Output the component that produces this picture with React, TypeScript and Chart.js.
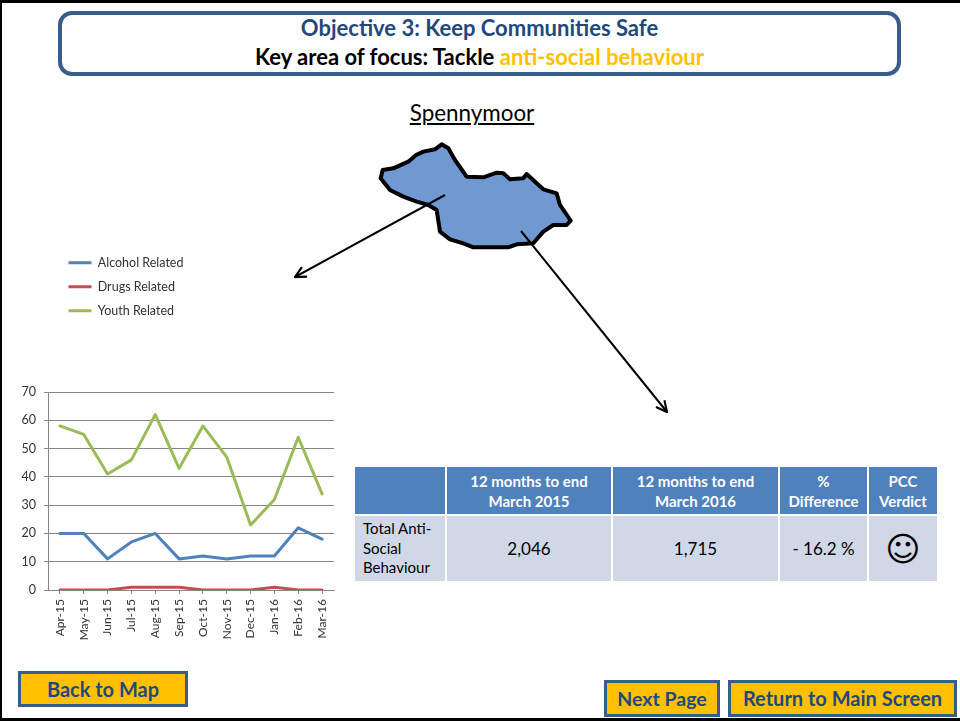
import React, { useEffect, useRef } from "react";
import { Chart, registerables } from "chart.js";

Chart.register(...registerables);

const months = ["Apr-15", "May-15", "Jun-15", "Jul-15", "Aug-15", "Sep-15", "Oct-15", "Nov-15", "Dec-15", "Jan-16", "Feb-16", "Mar-16"];
const alcoholRelated = [20, 20, 11, 17, 20, 11, 12, 11, 12, 12, 22, 18];
const drugsRelated = [0, 0, 0, 1, 1, 1, 0, 0, 0, 1, 0, 0];
const youthRelated = [58, 55, 41, 46, 62, 43, 58, 47, 23, 32, 54, 34];

const tableHeaders = ["", "12 months to end March 2015", "12 months to end March 2016", "% Difference", "PCC Verdict"];
const tableRow = ["Total Anti-Social Behaviour", "2,046", "1,715", "- 16.2 %", "☺"];

const FONT = "Lato, Carlito, sans-serif";
const NAVY = "#1f497d";
const EDGE = "#385d8a";
const AXIS = "#868686";
const TICK_TEXT = "#333333";

const CANVAS = { left: 0, top: 240, width: 345, height: 420 };
const LEGEND_AT = { x: 57, y: 245 - CANVAS.top };

const moveLegend = {
  id: "moveLegend",
  afterLayout(chart: any) {
    const l = chart.legend;
    if (!l) return;
    l.left = LEGEND_AT.x;
    l.top = LEGEND_AT.y;
    l.right = LEGEND_AT.x + 200;
    l.bottom = LEGEND_AT.y + 120;
  },
};

const cols = [
  { x: 355, w: 90 },
  { x: 447, w: 164 },
  { x: 613, w: 165 },
  { x: 780, w: 87 },
  { x: 869, w: 68 },
];

function Box(p: { x: number; y: number; w: number; h: number; text: string; size?: number }) {
  return (
    <div
      style={{
        position: "absolute", left: p.x, top: p.y, width: p.w, height: p.h, boxSizing: "border-box",
        background: "#ffc000", border: `3px solid ${EDGE}`, display: "flex", alignItems: "center",
        justifyContent: "center", color: NAVY, fontWeight: 700, fontSize: p.size ?? 20, fontFamily: FONT, whiteSpace: "nowrap", paddingBottom: 1,
      }}
    >
      {p.text}
    </div>
  );
}

function Cell(p: { x: number; y: number; w: number; h: number; bg: string; style?: any; children: any }) {
  return (
    <div
      style={{
        position: "absolute", left: p.x, top: p.y, width: p.w, height: p.h, background: p.bg, boxSizing: "border-box",
        display: "flex", alignItems: "center", justifyContent: "center", textAlign: "center", fontFamily: FONT, ...p.style,
      }}
    >
      {p.children}
    </div>
  );
}

export default function App() {
  const ref = useRef<HTMLCanvasElement>(null);
  useEffect(() => {
    const chart = new Chart(ref.current!, {
      type: "line",
      plugins: [moveLegend],
      data: {
        labels: months,
        datasets: [
          { label: "Alcohol Related", data: alcoholRelated, borderColor: "#4f81bd", backgroundColor: "#4f81bd", borderWidth: 3 },
          { label: "Drugs Related", data: drugsRelated, borderColor: "#c0504d", backgroundColor: "#c0504d", borderWidth: 3 },
          { label: "Youth Related", data: youthRelated, borderColor: "#9bbb59", backgroundColor: "#9bbb59", borderWidth: 3 },
        ],
      },
      options: {
        animation: false,
        responsive: false,
        devicePixelRatio: 1,
        layout: { padding: { top: 392 - CANVAS.top, right: CANVAS.width - 334, left: 0, bottom: 0 } },
        elements: {
          line: { tension: 0, borderCapStyle: "round", borderJoinStyle: "round" },
          point: { radius: 0 },
        },
        plugins: {
          title: { display: false },
          tooltip: { enabled: false },
          legend: {
            position: "chartArea",
            align: "start",
            labels: {
              font: { family: FONT, size: 12.5 },
              color: TICK_TEXT,
              usePointStyle: true,
              pointStyle: "line",
              pointStyleWidth: 23,
              padding: 11.5,
            },
          },
        },
        scales: {
          x: {
            offset: true,
            afterFit(s: any) { s.height = 70; },
            grid: { display: true, drawOnChartArea: false, drawTicks: true, tickLength: 4, color: AXIS },
            border: { color: AXIS },
            ticks: {
              autoSkip: false, minRotation: 90, maxRotation: 90, padding: 5,
              color: TICK_TEXT, font: { family: FONT, size: 12 },
            },
          },
          y: {
            min: 0,
            max: 70,
            afterFit(s: any) { s.width = 48; },
            grid: { color: AXIS, tickLength: 4 },
            border: { color: AXIS },
            ticks: { stepSize: 10, padding: 8, color: TICK_TEXT, font: { family: FONT, size: 12.5 } },
          },
        },
      },
    } as any);
    return () => chart.destroy();
  }, []);

  return (
    <div style={{ position: "absolute", left: 0, top: 0, width: 960, height: 721, background: "#fff", overflow: "hidden", fontFamily: FONT }}>
      {/* slide frame */}
      <div style={{ position: "absolute", left: 0, top: 0, width: 960, height: 3, background: "#000" }} />
      <div style={{ position: "absolute", left: 0, top: 0, width: 2, height: 721, background: "#000" }} />
      <div style={{ position: "absolute", left: 0, top: 718, width: 960, height: 3, background: "#000" }} />

      {/* heading */}
      <div
        style={{
          position: "absolute", left: 58, top: 11, width: 843, height: 65, boxSizing: "border-box",
          border: `4px solid ${EDGE}`, borderRadius: 14, textAlign: "center", fontWeight: 700, fontSize: 22, lineHeight: "29px",
        }}
      >
        <div style={{ color: NAVY, marginTop: -2 }}>Objective 3: Keep Communities Safe</div>
        <div style={{ color: "#000" }}>
          Key area of focus: Tackle <span style={{ color: "#ffc000" }}>anti-social behaviour</span>
        </div>
      </div>

      <div style={{ position: "absolute", left: 372, width: 200, top: 99, textAlign: "center", fontSize: 22.4, lineHeight: "28px", color: "#000", textDecoration: "underline" }}>
        Spennymoor
      </div>

      {/* map and arrows */}
      <svg width={960} height={721} style={{ position: "absolute", left: 0, top: 0 }}>
        <defs>
          <marker id="head" viewBox="0 0 12 12" refX="11" refY="6" markerWidth="13" markerHeight="13" markerUnits="userSpaceOnUse" orient="auto">
            <path d="M1 1 L11 6 L1 11" fill="none" stroke="#000" strokeWidth="2" />
          </marker>
        </defs>
        <g transform="translate(340,100) scale(0.3333)">
          <path
            d="M122 235 L128 210 L160 205 L180 196 L205 185 L228 165 L250 155 L285 148 L305 133 L325 145 L345 180 L380 230 L430 232 L470 218 L490 220 L510 238 L550 235 L560 222 L590 250 L610 268 L650 280 L660 315 L692 362 L680 375 L640 375 L610 395 L580 430 L530 433 L505 442 L400 442 L370 430 L330 418 L300 395 L290 330 L265 315 L230 305 L190 290 L150 270 Z"
            fill="#7099d2" stroke="#000" strokeWidth="12" strokeLinejoin="round"
          />
        </g>
        <line x1={445} y1={195} x2={295} y2={277} stroke="#000" strokeWidth={2} markerEnd="url(#head)" />
        <line x1={521} y1={231} x2={667} y2={412} stroke="#000" strokeWidth={2} markerEnd="url(#head)" />
      </svg>

      {/* chart */}
      <canvas
        ref={ref}
        width={CANVAS.width}
        height={CANVAS.height}
        style={{ position: "absolute", left: CANVAS.left, top: CANVAS.top, width: CANVAS.width, height: CANVAS.height }}
      />

      {/* table */}
      {cols.map((c, i) => (
        <Cell key={"h" + i} x={c.x} y={467} w={c.w} h={47} bg="#4f81bd" style={{ color: "#fff", fontWeight: 700, fontSize: 15, lineHeight: "20px", padding: "0 6px" }}>
          {tableHeaders[i]}
        </Cell>
      ))}
      {cols.map((c, i) => (
        <Cell
          key={"b" + i}
          x={c.x}
          y={516}
          w={c.w}
          h={65}
          bg="#d0d8e8"
          style={
            i === 0
              ? { color: "#000", fontSize: 15, lineHeight: "19.5px", justifyContent: "flex-start", textAlign: "left", padding: "0 8px" }
              : i === 4
              ? { color: "#000", fontSize: 34, fontFamily: "DejaVu Sans" }
              : { color: "#000", fontSize: 17 }
          }
        >
          {tableRow[i]}
        </Cell>
      ))}

      {/* buttons */}
      <Box x={18} y={671} w={170} h={36} text="Back to Map" />
      <Box x={604} y={680} w={116} h={37} text="Next Page" size={19.5} />
      <Box x={728} y={680} w={229} h={37} text="Return to Main Screen" />
    </div>
  );
}
